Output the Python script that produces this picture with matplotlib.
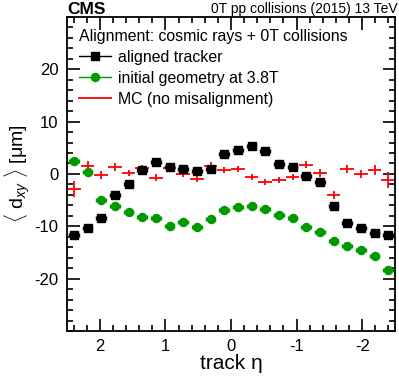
import numpy as np
import matplotlib
matplotlib.use("Agg")
import matplotlib.pyplot as plt
from matplotlib.lines import Line2D
from matplotlib.ticker import MultipleLocator, FixedLocator

plt.rcParams["font.family"] = ["Liberation Sans", "DejaVu Sans"]
plt.rcParams["axes.unicode_minus"] = False
plt.rcParams["mathtext.fontset"] = "custom"
plt.rcParams["mathtext.rm"] = "Liberation Sans"
plt.rcParams["mathtext.it"] = "Liberation Sans:italic"

# 24 bins in eta, from 2.5 down to -2.5
eta_edges = np.linspace(2.5, -2.5, 25)
eta = 0.5 * (eta_edges[:-1] + eta_edges[1:])

# mean d_xy in um
aligned = [-11.7, -10.4, -8.4, -4.1, -1.85, 0.7, 2.35, 1.3, 0.95, 0.63, 1.0, 3.8,
           4.6, 5.4, 4.3, 1.97, 1.27, -0.45, -1.5, -6.2, -9.4, -10.4, -11.3, -11.6]
initial = [2.5, 0.3, -5.0, -6.2, -7.3, -8.2, -8.5, -9.9, -9.2, -10.1, -8.6, -6.9,
           -6.4, -6.2, -6.7, -7.9, -8.4, -10.1, -11.1, -12.8, -13.7, -14.6, -15.6, -18.3]
mc = [-2.9, 1.45, -0.2, 1.3, 0.2, 1.07, -0.7, 1.07, 0.0, -0.95, 1.6, 0.7,
      0.95, -0.65, -1.5, -1.1, -0.65, 1.8, 0.2, -4.0, 0.95, 0.05, 0.8, -1.1]
mc_err = [1.5, 1.0, 0.8, 0.7, 0.6, 0.6, 0.6, 0.6, 0.6, 0.6, 0.6, 0.6,
          0.6, 0.6, 0.6, 0.6, 0.6, 0.6, 0.7, 0.7, 0.8, 0.8, 1.0, 1.5]
data_err = [0.4] * 24
y_ticks = [-20, -10, 0, 10, 20]

green = "#009a00"
red = "#ff0000"
half_bin = 5 / 48

fig = plt.figure(figsize=(3.99, 3.84), dpi=100)
ax = fig.add_axes([0.168, 0.138, 0.822, 0.818])

ax.errorbar(eta, mc, xerr=half_bin, yerr=mc_err, fmt="none", ecolor=red,
            elinewidth=1.3, capsize=0, zorder=2)
ax.errorbar(eta, initial, xerr=0.075, yerr=data_err, fmt="o", color=green,
            ms=5.8, elinewidth=1.0, capsize=1.5, capthick=1.0, zorder=3)
ax.errorbar(eta, aligned, xerr=0.075, yerr=data_err, fmt="s", color="black",
            ms=5.8, elinewidth=1.0, capsize=1.5, capthick=1.0, zorder=4)

ax.set_xlim(2.5, -2.5)
ax.set_ylim(-30, 30)
ax.xaxis.set_major_locator(MultipleLocator(1))
ax.xaxis.set_minor_locator(MultipleLocator(0.2))
ax.yaxis.set_major_locator(FixedLocator(y_ticks))
ax.yaxis.set_minor_locator(MultipleLocator(2))
ax.tick_params(which="both", direction="in", top=True, right=True, width=1.2,
               labelsize=12, pad=6)
ax.tick_params(which="major", length=9)
ax.tick_params(which="minor", length=4.5)
for s in ax.spines.values():
    s.set_linewidth(1.3)

ax.set_xlabel("track η", fontsize=15, labelpad=0)
ax.set_ylabel(r"$\langle$ d$_{xy}$ $\rangle$ [μm]", fontsize=14, labelpad=2)

handles = [
    Line2D([], [], color="black", marker="s", ms=5.8, lw=1.0),
    Line2D([], [], color=green, marker="o", ms=5.8, lw=1.0),
    Line2D([], [], color=red, lw=1.3),
]
labels = ["aligned tracker", "initial geometry at 3.8T", "MC (no misalignment)"]
leg = ax.legend(handles, labels, loc="upper left", frameon=False, fontsize=11.4,
                title="Alignment: cosmic rays + 0T collisions", title_fontsize=11.4,
                alignment="left", handlelength=2.0, handletextpad=0.5,
                labelspacing=0.38, borderaxespad=0.4, borderpad=0.35)

fig.text(0.168, 1 - 14.5 / 384, "CMS", fontsize=12.5, fontweight="bold",
         ha="left", va="baseline")
fig.text(0.997, 1 - 13.5 / 384, "0T pp collisions (2015) 13 TeV", fontsize=10,
         ha="right", va="baseline")

fig.savefig("out.png", dpi=100)
